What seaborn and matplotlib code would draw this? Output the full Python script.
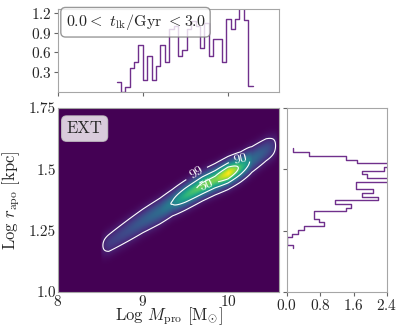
import numpy as np
import pandas as pd
import matplotlib
matplotlib.use("Agg")
import matplotlib.pyplot as plt
from matplotlib.colors import PowerNorm
import seaborn as sns

# ---- data ----
# top histogram: log M_pro, 31 bins of ~0.052 dex starting at 8.69
top_lo, top_hi, top_nbins = 8.69, 10.29, 31
top_heights = [0.15, 0.0, 0.07, 0.36, 0.45, 0.72, 0.18, 0.55, 0.18, 0.39,
               0.72, 0.45, 0.95, 1.00, 0.55, 0.64, 0.95, 1.07, 1.00, 0.66,
               1.04, 0.55, 0.80, 0.80, 0.46, 1.11, 0.96, 1.11, 1.35, 1.09, 0.09]

# right histogram: log r_apo, 27 bins from 1.178 to 1.5855 (bottom to top)
right_lo, right_hi, right_nbins = 1.178, 1.5855, 27
right_heights = [0.136, 0.0, 0.0, 0.13, 0.26, 0.40, 0.90, 0.78, 0.64, 0.64,
                 1.42, 1.54, 1.16, 2.18, 1.80, 2.06, 1.66, 1.66, 3.00, 1.92,
                 1.80, 2.32, 3.00, 1.68, 1.42, 0.52, 0.136]

# ridge of the 2D density (centre line, relative density, vertical spread)
ridge_x = [8.50, 8.60, 8.80, 9.00, 9.20, 9.35, 9.50, 9.70, 9.85, 10.00, 10.15, 10.28, 10.45, 10.58]
ridge_y = [1.185, 1.20, 1.245, 1.29, 1.33, 1.365, 1.395, 1.435, 1.46, 1.485, 1.51, 1.54, 1.58, 1.60]
ridge_amp = [0.0, 0.03, 0.05, 0.08, 0.12, 0.19, 0.42, 0.62, 0.64, 1.00, 0.45, 0.12, 0.06, 0.0]
ridge_sig = [0.022, 0.022, 0.023, 0.023, 0.023, 0.022, 0.022, 0.022, 0.022, 0.022, 0.022, 0.023, 0.023, 0.023]

# contour levels (fraction of peak density) and their labels
contour_levels = [0.009, 0.18, 0.55]
contour_labels = ["99", "90", "50"]
label_pos = [(9.62, 1.49), (10.15, 1.535), (9.75, 1.435)]

tick_x_main = [8, 9, 10]
tick_y_main = [1.0, 1.25, 1.5, 1.75]
tick_y_top = [0.3, 0.6, 0.9, 1.2]
tick_x_right = [0.0, 0.8, 1.6, 2.4]

# ---- style ----
sns.set_style("white")
plt.rcParams.update({
    "font.family": "serif",
    "font.serif": ["cmr10", "DejaVu Serif"],
    "mathtext.fontset": "cm",
    "axes.formatter.use_mathtext": True,
    "font.size": 11,
    "axes.edgecolor": "0.65",
    "axes.linewidth": 0.8,
    "xtick.major.size": 3,
    "ytick.major.size": 3,
    "xtick.major.pad": 1.5,
    "ytick.major.pad": 1.5,
    "xtick.color": "0.4",
    "ytick.color": "0.4",
    "xtick.labelcolor": "0.15",
    "ytick.labelcolor": "0.15",
    "xtick.bottom": True,
    "ytick.left": True,
})
line_color = "#70308c"

fig = plt.figure(figsize=(3.99, 3.32), dpi=100)
ax_main = fig.add_axes([0.145, 0.1205, 0.554, 0.554])
ax_top = fig.add_axes([0.145, 0.723, 0.554, 0.25])
ax_right = fig.add_axes([0.719, 0.1205, 0.251, 0.554])

# ---- 2D density ----
gx = np.linspace(8.0, 10.6, 400)
gy = np.linspace(1.0, 1.75, 300)
X, Y = np.meshgrid(gx, gy)
cy = np.interp(gx, ridge_x, ridge_y)
amp = np.interp(gx, ridge_x, ridge_amp)
sig = np.interp(gx, ridge_x, ridge_sig)
Z = amp[None, :] * np.exp(-0.5 * ((Y - cy[None, :]) / sig[None, :]) ** 2)

ax_main.imshow(Z, origin="lower", extent=[8.0, 10.6, 1.0, 1.75], aspect="auto",
               cmap="viridis", norm=PowerNorm(0.5, vmin=0, vmax=Z.max()),
               interpolation="bilinear")

cs = ax_main.contour(X, Y, Z, levels=contour_levels, colors="white", linewidths=0.8)
ax_main.clabel(cs, fmt=dict(zip(cs.levels, contour_labels)), fontsize=10,
               inline=True, manual=label_pos)

ax_main.set_xlim(8.0, 10.6)
ax_main.set_ylim(1.0, 1.75)
ax_main.set_xticks(tick_x_main)
ax_main.set_yticks(tick_y_main)
ax_main.set_yticklabels(["1.0", "1.25", "1.5", "1.75"])
ax_main.tick_params(length=0, pad=1.5)
ax_main.set_xlabel(r"Log $M_{\rm pro}$ [M$_{\odot}$]", fontsize=12, va="top")
ax_main.set_ylabel(r"Log $r_{\rm apo}$ [kpc]", fontsize=12)
ax_main.xaxis.set_label_coords(0.5, -0.072)
ax_main.yaxis.set_label_coords(-0.16, 0.5)
ax_main.text(0.04, 0.93, "EXT", transform=ax_main.transAxes, fontsize=12,
             va="top", ha="left",
             bbox=dict(boxstyle="round,pad=0.3", facecolor="white", alpha=0.8,
                       edgecolor="0.8"))

# ---- top histogram ----
top_edges = list(np.linspace(top_lo, top_hi, top_nbins + 1))
top_df = pd.DataFrame({"mass": [(a + b) / 2 for a, b in zip(top_edges[:-1], top_edges[1:])],
                       "dens": top_heights})
sns.histplot(data=top_df, x="mass", weights="dens", bins=top_edges, element="step",
             fill=False, color=line_color, linewidth=1, ax=ax_top)
ax_top.set_xlim(8.0, 10.6)
ax_top.set_ylim(0, 1.26)
ax_top.set_xticks(tick_x_main)
ax_top.set_xticklabels([])
ax_top.set_yticks(tick_y_top)
ax_top.set_xlabel("")
ax_top.set_ylabel("")
ax_top.text(0.035, 0.84, r"0.0$<$ $t_{\rm lk}$/Gyr $<$3.0", transform=ax_top.transAxes,
            fontsize=11.5, va="center", ha="left", clip_on=False,
            bbox=dict(boxstyle="round,pad=0.3", facecolor="white", alpha=0.8,
                      edgecolor="0.5"))

# ---- right histogram ----
right_edges = list(np.linspace(right_lo, right_hi, right_nbins + 1))
right_df = pd.DataFrame({"rapo": [(a + b) / 2 for a, b in zip(right_edges[:-1], right_edges[1:])],
                         "dens": right_heights})
sns.histplot(data=right_df, y="rapo", weights="dens", bins=right_edges, element="step",
             fill=False, color=line_color, linewidth=1, ax=ax_right)
ax_right.set_ylim(1.0, 1.75)
ax_right.set_xlim(0, 2.4)
ax_right.set_yticks(tick_y_main)
ax_right.set_yticklabels([])
ax_right.set_xticks(tick_x_right)
ax_right.set_xlabel("")
ax_right.set_ylabel("")

fig.savefig("out.png", dpi=100)
